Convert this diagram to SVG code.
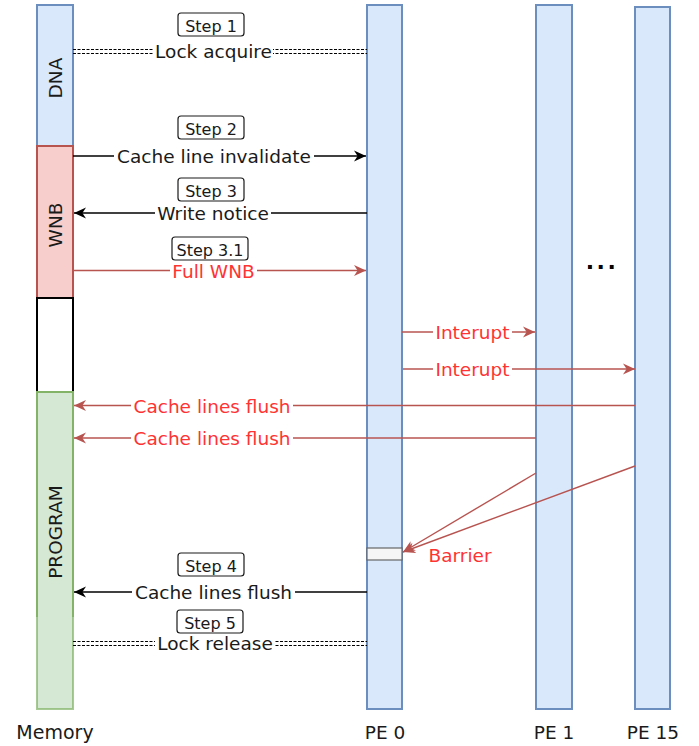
<svg xmlns="http://www.w3.org/2000/svg" width="699" height="746" viewBox="0 0 699 746">
<style>
text{font-family:"DejaVu Sans","Liberation Sans",sans-serif;}
.lbl{font-size:18.5px;fill:#1a1a1a;text-anchor:middle;}
.red{fill:#ff3333;}
.step{font-size:16px;fill:#1a1a1a;text-anchor:middle;}
.stepbox{fill:#fff;stroke:#1a1a1a;stroke-width:1.2;}
.pe{fill:#dae8fc;stroke:#6c8ebf;stroke-width:2;}
.bg{fill:#fff;}
.blk{stroke:#000;stroke-width:1.4;fill:none;}
.rl{stroke:#b85450;stroke-width:1.4;fill:none;}
.dash{stroke:#000;stroke-width:1;stroke-dasharray:3 1.5;fill:none;}
</style>
<defs>
<marker id="ab" markerUnits="userSpaceOnUse" markerWidth="12" markerHeight="12" refX="10" refY="5" orient="auto" viewBox="0 0 10 10"><path d="M0,0.5 L10,5 L0,9.5 L3,5 z" fill="#000"/></marker>
<marker id="ar" markerUnits="userSpaceOnUse" markerWidth="12" markerHeight="12" refX="10" refY="5" orient="auto" viewBox="0 0 10 10"><path d="M0,0.5 L10,5 L0,9.5 L3,5 z" fill="#b85450"/></marker>
</defs>

<g id="memory">
<rect id="dna" x="37" y="5" width="36" height="141" fill="#dae8fc" stroke="#6c8ebf" stroke-width="2"/>
<rect id="wnb" x="37" y="146" width="36" height="152" fill="#f8cecc" stroke="#b85450" stroke-width="2"/>
<rect id="empty" x="37" y="298" width="36" height="94" fill="#fff" stroke="#000" stroke-width="2"/>
<rect id="program-full" x="37" y="392" width="36" height="317" fill="#d5e8d4" stroke="#82b366" stroke-width="2" stroke-opacity="0.7"/>
<path id="program" d="M37,617 V392 H73 V617" fill="none" stroke="#82b366" stroke-width="2"/>
<text class="lbl" transform="translate(55,78) rotate(-90)" dominant-baseline="central">DNA</text>
<text class="lbl" transform="translate(55,225) rotate(-90)" dominant-baseline="central">WNB</text>
<text class="lbl" transform="translate(55,532) rotate(-90)" dominant-baseline="central">PROGRAM</text>
<text class="lbl" x="55" y="739" style="font-size:19px">Memory</text>
</g>

<g id="pe0">
<rect class="pe" x="367" y="5" width="35" height="704"/>
<rect id="barrier" x="367" y="548" width="35" height="12" fill="#f5f5f5" stroke="#666" stroke-width="1.2"/>
<text class="lbl" x="385" y="739">PE 0</text>
</g>
<g id="pe1">
<rect class="pe" x="536" y="5" width="36" height="704"/>
<text class="lbl" x="554" y="739">PE 1</text>
</g>
<g id="pe15">
<rect class="pe" x="635" y="7" width="35" height="702"/>
<text class="lbl" x="653" y="739">PE 15</text>
</g>

<g id="ellipsis">
<text x="602" y="269" font-size="22" font-weight="bold" text-anchor="middle" fill="#000" letter-spacing="2.5">...</text>
</g>

<g id="steps">
<rect class="stepbox" x="178" y="13" width="66" height="23" rx="3"/><text class="step" x="211" y="31.5">Step 1</text>
<rect class="stepbox" x="178" y="116" width="66" height="23" rx="3"/><text class="step" x="211" y="134.5">Step 2</text>
<rect class="stepbox" x="178" y="178" width="66" height="23" rx="3"/><text class="step" x="211" y="196.5">Step 3</text>
<rect class="stepbox" x="172" y="237" width="76" height="23" rx="3"/><text class="step" x="210" y="255.5">Step 3.1</text>
<rect class="stepbox" x="178" y="553" width="66" height="23" rx="3"/><text class="step" x="211" y="571.5">Step 4</text>
<rect class="stepbox" x="177" y="610" width="66" height="23" rx="3"/><text class="step" x="210" y="628.5">Step 5</text>
</g>

<g id="connectors">
<!-- Lock acquire -->
<line class="dash" x1="73" y1="49.5" x2="367" y2="49.5"/>
<line class="dash" x1="73" y1="53.5" x2="367" y2="53.5"/>
<rect class="bg" x="154" y="42" width="119" height="18"/>
<text class="lbl" x="213.5" y="58">Lock acquire</text>
<!-- Cache line invalidate -->
<line class="blk" x1="73" y1="156" x2="366" y2="156" marker-end="url(#ab)"/>
<rect class="bg" x="114" y="147" width="200" height="18"/>
<text class="lbl" x="214" y="163">Cache line invalidate</text>
<!-- Write notice -->
<line class="blk" x1="367" y1="213" x2="74" y2="213" marker-end="url(#ab)"/>
<rect class="bg" x="155" y="204" width="116" height="18"/>
<text class="lbl" x="213" y="220">Write notice</text>
<!-- Full WNB -->
<line class="rl" x1="73" y1="270.5" x2="366" y2="270.5" marker-end="url(#ar)"/>
<rect class="bg" x="170" y="262" width="87" height="18"/>
<text class="lbl red" x="213.5" y="277.5">Full WNB</text>
<!-- Interupt 1 -->
<line class="rl" x1="402" y1="332" x2="535" y2="332" marker-end="url(#ar)"/>
<rect class="bg" x="433" y="323" width="79" height="18"/>
<text class="lbl red" x="472.5" y="339">Interupt</text>
<!-- Interupt 2 -->
<line class="rl" x1="403" y1="369" x2="635" y2="369" marker-end="url(#ar)"/>
<rect class="bg" x="433" y="360" width="79" height="18"/>
<text class="lbl red" x="472.5" y="376">Interupt</text>
<!-- Cache lines flush from PE15 -->
<line class="rl" x1="635" y1="405.5" x2="74" y2="405.5" marker-end="url(#ar)"/>
<rect class="bg" x="131" y="397" width="162" height="18"/>
<text class="lbl red" x="212" y="412.5">Cache lines flush</text>
<!-- Cache lines flush from PE1 -->
<line class="rl" x1="536" y1="438" x2="74" y2="438" marker-end="url(#ar)"/>
<rect class="bg" x="131" y="429" width="162" height="18"/>
<text class="lbl red" x="212" y="445">Cache lines flush</text>
<!-- Barrier -->
<line class="rl" x1="536" y1="473" x2="403" y2="552" marker-end="url(#ar)"/>
<line class="rl" x1="635" y1="466" x2="403" y2="552" marker-end="url(#ar)"/>
<text class="lbl red" x="460" y="561.5">Barrier</text>
<!-- Step 4 Cache lines flush -->
<line class="blk" x1="367" y1="592" x2="74" y2="592" marker-end="url(#ab)"/>
<rect class="bg" x="132" y="583" width="163" height="18"/>
<text class="lbl" x="213.5" y="599">Cache lines flush</text>
<!-- Lock release -->
<line class="dash" x1="73" y1="641.5" x2="367" y2="641.5"/>
<line class="dash" x1="73" y1="645.5" x2="367" y2="645.5"/>
<rect class="bg" x="155" y="634" width="120" height="18"/>
<text class="lbl" x="215" y="650">Lock release</text>
</g>
</svg>
